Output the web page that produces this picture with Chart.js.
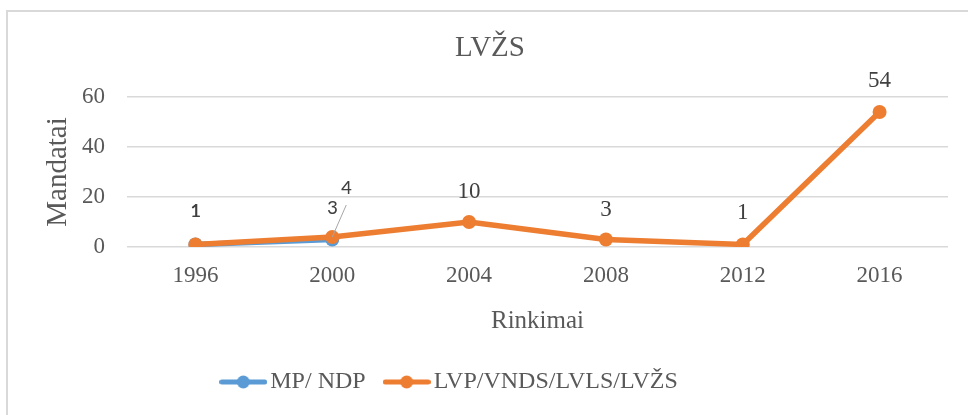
<!DOCTYPE html>
<html>
<head>
<meta charset="utf-8">
<script src="https://cdn.jsdelivr.net/npm/chart.js@4.4.1/dist/chart.umd.min.js"></script>
<style>
    html, body { margin: 0; background: #fff; }
    #wrap { position: relative; width: 968px; height: 415px; overflow: hidden; }
    #frame { position: absolute; left: 6px; top: 10px; width: 1000px; height: 500px;
             border-top: 2px solid #d9d9d9; border-left: 2px solid #d9d9d9; }
    #chart { position: absolute; left: 0; top: 0; }
</style>
</head>
<body>
<div id="wrap">
    <div id="frame"></div>
    <canvas id="chart" width="968" height="415"></canvas>
</div>
<script>
const years = ['1996', '2000', '2004', '2008', '2012', '2016']
const mpNdp = [1, 3, null, null, null, null]
const lvzs = [1, 4, 10, 3, 1, 54]
const seriesNames = ['MP/ NDP', 'LVP/VNDS/LVLS/LVŽS']
const yMin = 0
const yMax = 60
const yStep = 20

const BLUE = '#5b9bd5'
const ORANGE = '#ed7d31'
const TEXT = '#595959'
const SERIF = "'Times New Roman', 'Liberation Serif', serif"
const SANS = "Calibri, Carlito, Lato, sans-serif"

// value label placement per point: [dx, dy, sans font?]
const labelPos = [
    [[0, -33, true], [0, -31, true]],
    [[0, -33, true], [14, -48, true], [0, -30], [0, -30], [0, -32], [0, -31]]
]

function legendMark(color) {
    const c = document.createElement('canvas')
    c.width = 48
    c.height = 16
    const g = c.getContext('2d')
    g.strokeStyle = color
    g.fillStyle = color
    g.lineWidth = 5
    g.lineCap = 'round'
    g.beginPath()
    g.moveTo(2.5, 8)
    g.lineTo(45.5, 8)
    g.stroke()
    g.beginPath()
    g.arc(24, 8, 6.5, 0, Math.PI * 2)
    g.fill()
    return c
}
const legendMarks = [legendMark(BLUE), legendMark(ORANGE)]

const valueLabels = {
    id: 'valueLabels',
    afterDatasetsDraw(chart) {
        const ctx = chart.ctx
        ctx.save()
        ctx.textAlign = 'center'
        ctx.textBaseline = 'middle'
        chart.data.datasets.forEach((ds, i) => {
            chart.getDatasetMeta(i).data.forEach((pt, j) => {
                const v = ds.data[j]
                if (v == null) return
                const [dx, dy, sans] = labelPos[i][j]
                if (dx) {
                    // leader line back to the point
                    ctx.strokeStyle = '#a6a6a6'
                    ctx.lineWidth = 1
                    ctx.beginPath()
                    ctx.moveTo(pt.x + dx, pt.y + dy + 16)
                    ctx.lineTo(pt.x, pt.y)
                    ctx.stroke()
                }
                ctx.fillStyle = '#404040'
                ctx.font = sans ? `21px ${SANS}` : `23px ${SERIF}`
                ctx.fillText(String(v), pt.x + dx, pt.y + dy)
            })
        })
        ctx.restore()
    }
}

const legendShift = {
    id: 'legendShift',
    afterLayout(chart) {
        chart.legend.left -= 37
        chart.legend.right -= 37
    }
}

new Chart(document.getElementById('chart'), {
    type: 'line',
    data: {
        labels: years,
        datasets: [
            { label: seriesNames[0], data: mpNdp, borderColor: BLUE, backgroundColor: BLUE,
              borderWidth: 5.5, pointRadius: 7, pointHoverRadius: 7, pointBorderWidth: 0, order: 1 },
            { label: seriesNames[1], data: lvzs, borderColor: ORANGE, backgroundColor: ORANGE,
              borderWidth: 5.5, pointRadius: 7, pointHoverRadius: 7, pointBorderWidth: 0, order: 0 }
        ]
    },
    options: {
        responsive: false,
        animation: false,
        layout: { padding: { left: 32, right: 20, top: 0, bottom: 11 } },
        scales: {
            x: {
                offset: true,
                grid: { display: false, drawTicks: false },
                border: { display: false },
                ticks: { color: TEXT, font: { family: SERIF, size: 23 }, padding: 15 },
                title: { display: true, text: 'Rinkimai', color: TEXT,
                         font: { family: SERIF, size: 25 }, padding: { top: 0, bottom: 8 } },
                afterFit(s) { s.height = 97 }
            },
            y: {
                min: yMin,
                max: yMax,
                ticks: { stepSize: yStep, color: TEXT, font: { family: SERIF, size: 23 }, padding: 22 },
                grid: { color: '#d9d9d9', lineWidth: 1.5, drawTicks: false },
                border: { display: false },
                title: { display: true, text: 'Mandatai', color: TEXT,
                         font: { family: SERIF, size: 29 }, padding: { top: 8.6, bottom: 0 } },
                afterFit(s) { s.width = 95 }
            }
        },
        plugins: {
            title: { display: true, text: 'LVŽS', color: TEXT,
                     font: { family: SERIF, size: 29, weight: 'normal' },
                     padding: { top: 31, bottom: 31.2 } },
            legend: {
                position: 'bottom',
                labels: {
                    usePointStyle: true,
                    pointStyleWidth: 30,
                    padding: 26,
                    color: TEXT,
                    font: { family: SERIF, size: 24 },
                    generateLabels(chart) {
                        return chart.data.datasets.map((ds, i) => ({
                            text: ds.label,
                            fillStyle: ds.borderColor,
                            strokeStyle: ds.borderColor,
                            lineWidth: 0,
                            pointStyle: legendMarks[i],
                            fontColor: TEXT,
                            hidden: false,
                            datasetIndex: i
                        }))
                    }
                }
            },
            tooltip: { enabled: false }
        }
    },
    plugins: [valueLabels, legendShift]
})
</script>
</body>
</html>
